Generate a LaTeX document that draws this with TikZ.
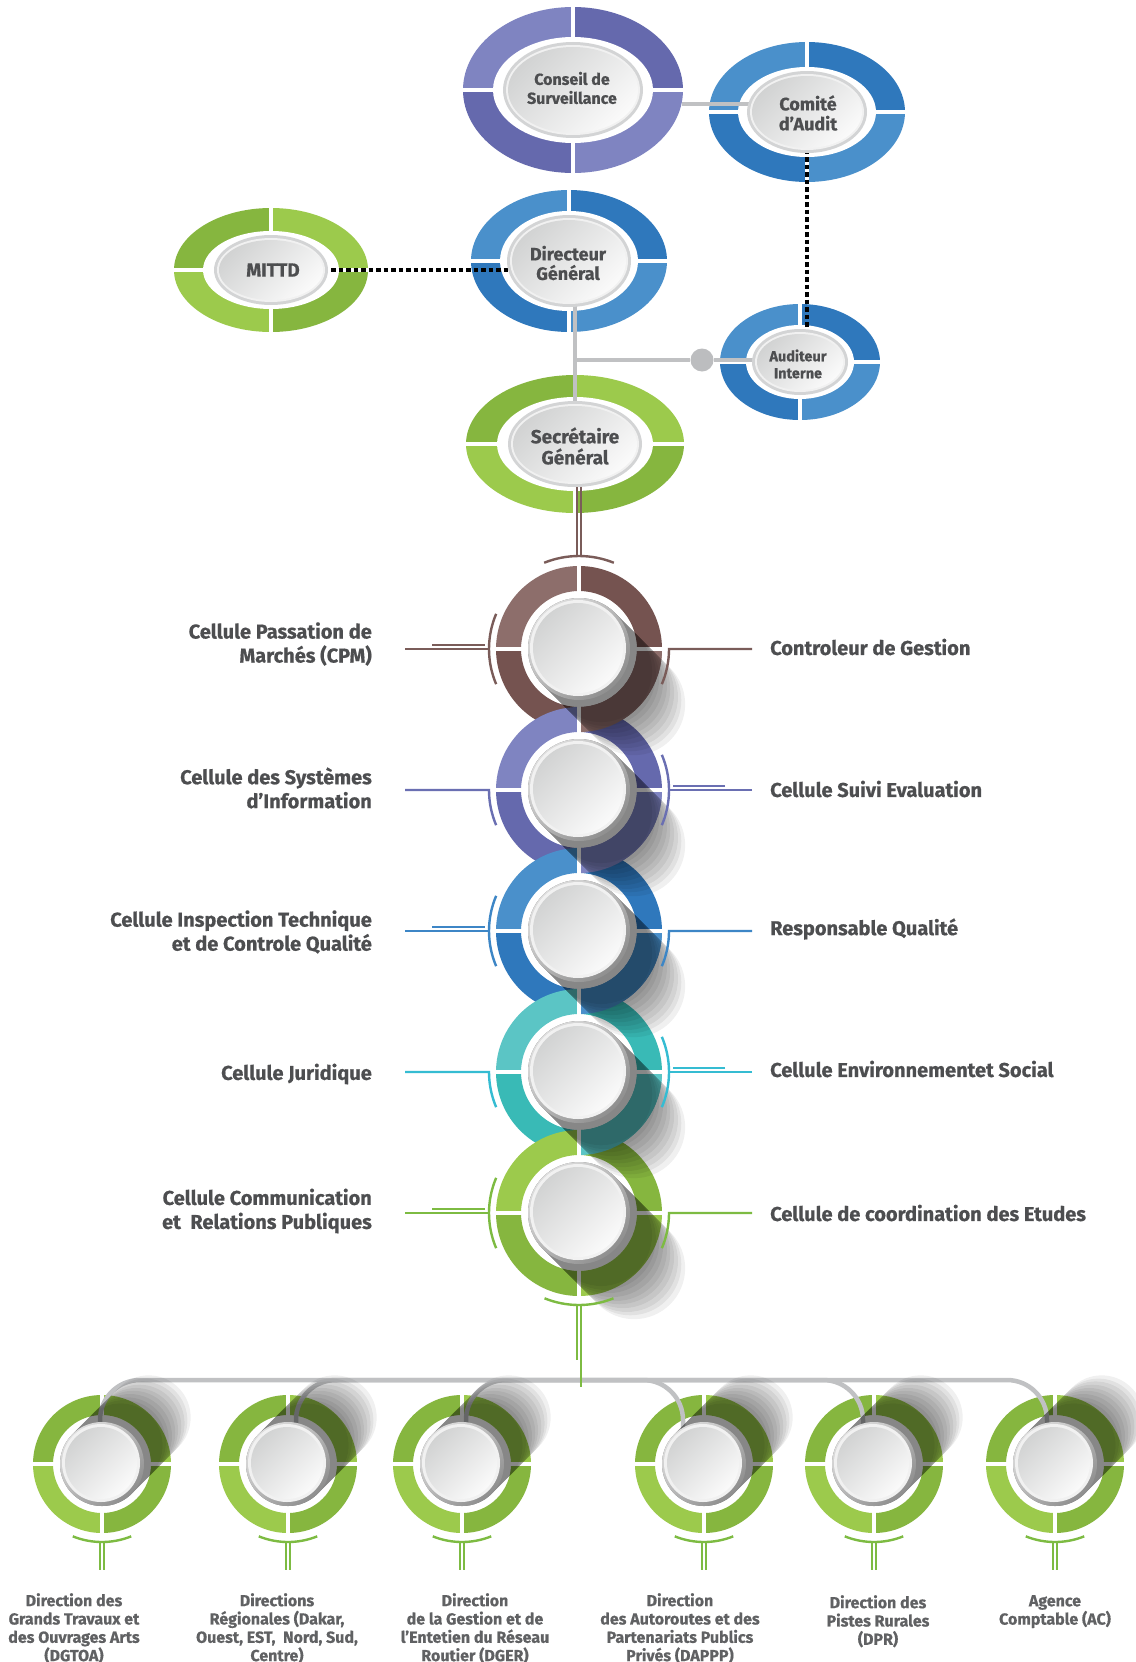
\documentclass[tikz,border=0pt]{standalone}
\usepackage{fontspec}
\setmainfont{Fira Sans}[BoldFeatures={FakeBold=0.6}]
\usetikzlibrary{positioning,calc}
% couleurs
\definecolor{TextGray}{HTML}{4D4E50}
\definecolor{LabelGray}{HTML}{606163}
\definecolor{LineGray}{HTML}{C0C1C3}
\definecolor{DotGray}{HTML}{BCBDBF}
\definecolor{BrownL}{HTML}{8D6E6B}
\definecolor{BrownD}{HTML}{755350}
\definecolor{BrownLine}{HTML}{7A5C59}
\definecolor{PurpleL}{HTML}{7F84C1}
\definecolor{PurpleD}{HTML}{6569AD}
\definecolor{PurpleLine}{HTML}{6A6FB2}
\definecolor{BlueL}{HTML}{4A90CB}
\definecolor{BlueD}{HTML}{2F78BC}
\definecolor{BlueLine}{HTML}{3D86C6}
\definecolor{TealL}{HTML}{5BC5C5}
\definecolor{TealD}{HTML}{39BAB6}
\definecolor{TealLine}{HTML}{35BCD2}
\definecolor{GreenL}{HTML}{9CCA4C}
\definecolor{GreenD}{HTML}{86B63F}
\definecolor{GreenLine}{HTML}{7DBB42}
\definecolor{RimGray}{HTML}{D3D4D5}
\definecolor{RimWhite}{HTML}{F1F1F1}
\definecolor{RimTop}{HTML}{DEDEDE}
\definecolor{RimBottom}{HTML}{8E8E8E}
\definecolor{BtnDark}{HTML}{D2D3D3}
\definecolor{BtnLight}{HTML}{FAFAFA}

% anneau ovale en quatre quarts : centre, rx, ry, trou rx, trou ry, couleur HG/BD, couleur HD/BG
\newcommand\ovalring[7]{%
  \fill[#6] (#1) -- ++(180:#2 and #3) arc[start angle=180,end angle=270,x radius=#2,y radius=#3] -- cycle;
  \fill[#7] (#1) -- ++(270:#2 and #3) arc[start angle=270,end angle=360,x radius=#2,y radius=#3] -- cycle;
  \fill[#6] (#1) -- ++(0:#2 and #3) arc[start angle=0,end angle=90,x radius=#2,y radius=#3] -- cycle;
  \fill[#7] (#1) -- ++(90:#2 and #3) arc[start angle=90,end angle=180,x radius=#2,y radius=#3] -- cycle;
  \fill[white] (#1) ellipse[x radius=#4,y radius=#5];
  \draw[divider] ($(#1)+(-#2-1,0)$) -- ($(#1)+(#2+1,0)$);
  \draw[divider] ($(#1)+(0,-#3-1)$) -- ($(#1)+(0,#3+1)$);}
% bouton ovale
\newcommand\ovalbtn[3]{%
  \fill[RimGray] (#1) ellipse[x radius=#2,y radius=#3];
  \fill[RimWhite] (#1) ellipse[x radius={#2-3},y radius={#3-3}];
  \shade[top color=BtnDark,bottom color=BtnLight,shading angle=45] (#1) ellipse[x radius={#2-5},y radius={#3-5}];}
% secteur d'anneau : centre, R, r, debut, fin, couleur
\newcommand\annsec[6]{%
  \fill[#6] ($(#1)+(#4:#2)$) arc[start angle=#4,end angle=#5,radius=#2] -- ($(#1)+(#5:#3)$) arc[start angle=#5,end angle=#4,radius=#3] -- cycle;}
\newcommand\chainring[5]{%
  \annsec{#1}{#4}{#5}{180}{270}{#2}\annsec{#1}{#4}{#5}{270}{360}{#3}%
  \annsec{#1}{#4}{#5}{0}{90}{#2}\annsec{#1}{#4}{#5}{90}{180}{#3}%
  \draw[divider] ($(#1)+(-#4-1,0)$) -- ($(#1)+(#4+1,0)$);
  \draw[divider] ($(#1)+(0,-#4-1)$) -- ($(#1)+(0,#4+1)$);}
% bouton rond
\newcommand\roundbtn[2]{%
  \shade[top color=RimTop,bottom color=RimBottom,shading angle=45] (#1) circle[radius=#2];
  \fill[RimWhite] ($(#1)+(-1,-1)$) circle[radius={#2-3}];
  \shade[top color=BtnDark,bottom color=BtnLight,shading angle=45] ($(#1)+(-1,-1)$) circle[radius={#2-6}];}
% ombre portee : centre, rayon, angle, longueur
\newcommand\longshadow[4]{%
  \foreach \f in {0.40,0.47,0.53,0.60,0.67,0.73,0.80,0.87,0.93,1.00}{%
    \fill[black,opacity=0.058] ($(#1)+(#3+90:#2)$) -- ++(#3:#4*\f) arc[start angle=#3+90,delta angle=-180,radius=#2] -- ++(#3+180:#4*\f) arc[start angle=#3-90,delta angle=-180,radius=#2] -- cycle;}}
% decors lateraux
\newcommand\leftfull[2]{%
  \draw[#2,orn] ($(#1)+(-174,0)$) -- ($(#1)+(-89,0)$);
  \draw[#2,orn] ($(#1)+(-147,-4)$) -- ($(#1)+(-94,-4)$);
  \draw[#2,orn] ($(#1)+(157:90)$) arc[start angle=157,end angle=203,radius=90];}
\newcommand\leftdown[2]{%
  \draw[#2,orn] ($(#1)+(-174,0)$) -- ($(#1)+(-90,0)$) arc[start angle=180,end angle=157,radius=90];}
\newcommand\rightfull[2]{%
  \draw[#2,orn] ($(#1)+(173,0)$) -- ($(#1)+(89,0)$);
  \draw[#2,orn] ($(#1)+(146,-4)$) -- ($(#1)+(94,-4)$);
  \draw[#2,orn] ($(#1)+(-23:90)$) arc[start angle=-23,end angle=23,radius=90];}
\newcommand\rightdown[2]{%
  \draw[#2,orn] ($(#1)+(173,0)$) -- ($(#1)+(90,0)$) arc[start angle=0,end angle=23,radius=90];}

\begin{document}
\begin{tikzpicture}[x=1pt,y=-1pt,
    divider/.style={white,line width=4pt},
    orn/.style={line width=2.4pt},
    gline/.style={LineGray,line width=4.5pt},
    dotline/.style={black,line width=3.5pt,dash pattern=on 4.5pt off 3pt},
    toptxt/.style={text=TextGray,font=\bfseries\fontsize{16}{19}\selectfont,align=center,inner sep=0pt},
    sidelbl/.style={text=TextGray,font=\bfseries\fontsize{20}{24}\selectfont,inner sep=0pt},
    dirlbl/.style={text=LabelGray,font=\bfseries\fontsize{16}{18.3}\selectfont,align=center,inner sep=0pt,anchor=north}]
  \useasboundingbox (0,0) rectangle (1135,1662);
  \fill[white] (0,0) rectangle (1135,1662);

  % centres du haut
  \coordinate (cs) at (573,90);
  \coordinate (ca) at (807,112);
  \coordinate (dg) at (569,261);
  \coordinate (mi) at (271,270);
  \coordinate (au) at (800,362);
  \coordinate (sg) at (575,444);

  % anneaux ovales
  \ovalring{cs}{110}{83}{80}{53}{PurpleL}{PurpleD}
  \ovalring{ca}{98}{70}{69}{45}{BlueL}{BlueD}
  \ovalring{dg}{98}{71}{69}{50}{BlueL}{BlueD}
  \ovalring{mi}{97}{62}{68}{39}{GreenD}{GreenL}
  \ovalring{au}{80}{58}{54}{37}{BlueL}{BlueD}
  \ovalring{sg}{109}{69}{78}{47}{GreenD}{GreenL}

  % liaisons du haut
  \coordinate (csE) at (682,104);
  \coordinate (jct) at (575,360);
  \draw[gline] (csE) -- (csE -| ca);
  \draw[gline] (dg -| sg) -- (sg);
  \node[circle,fill=DotGray,minimum size=23pt,inner sep=0pt] (dot) at (702,360) {};
  \draw[gline] (jct) -- (dot) -- (jct -| au);
  \draw[dotline] (mi) -- (mi -| dg);
  \draw[dotline] (ca) -- (ca |- au);

  % boutons et textes du haut
  \ovalbtn{cs}{70}{48}
  \ovalbtn{ca}{60}{41}
  \ovalbtn{dg}{62}{46}
  \ovalbtn{mi}{57}{35}
  \ovalbtn{au}{48}{33}
  \ovalbtn{sg}{67}{43}
  \node[toptxt] (csLbl) at (572,88) {Conseil de\\Surveillance};
  \node[toptxt,font=\bfseries\fontsize{18}{20}\selectfont] (caLbl) at (808,113) {Comité\\d’Audit};
  \node[toptxt,font=\bfseries\fontsize{18}{19.5}\selectfont] (dgLbl) at (568,263) {Directeur\\Général};
  \node[toptxt,font=\bfseries\fontsize{19}{20}\selectfont] (miLbl) at (273,270) {MITTD};
  \node[toptxt,font=\bfseries\fontsize{14.5}{17}\selectfont] (auLbl) at (798,364) {Auditeur\\Interne};
  \node[toptxt,font=\bfseries\fontsize{19}{21}\selectfont] (sgLbl) at (575,446) {Secrétaire\\Général};

  % chaine des cellules
  \foreach \n/\cy in {cpm/649,csi/790,cit/931,cj/1072,ccr/1213}{\coordinate (\n) at (579,\cy);}
  \draw[BrownLine,line width=2pt] ($(cpm)+(-2,-93)$) -- ($(cpm)+(-2,-162)$);
  \draw[BrownLine,line width=2pt] ($(cpm)+(2,-93)$) -- ($(cpm)+(2,-162)$);
  \chainring{cpm}{BrownL}{BrownD}{83}{58}
  \chainring{csi}{PurpleL}{PurpleD}{83}{58}
  \chainring{cit}{BlueL}{BlueD}{83}{58}
  \chainring{cj}{TealL}{TealD}{83}{58}
  \chainring{ccr}{GreenL}{GreenD}{83}{58}
  % quarts bas-droite repris par-dessus
  \foreach \n/\lc in {cpm/BrownL,csi/PurpleL,cit/BlueL,cj/TealL}{%
    \annsec{\n}{83}{58}{0}{90}{\lc}
    \draw[divider] ($(\n)+(50,0)$) -- ($(\n)+(84,0)$);
    \draw[divider] ($(\n)+(0,50)$) -- ($(\n)+(0,84)$);
  }
  \foreach \n in {cpm,csi,cit,cj,ccr}{\longshadow{\n}{51}{45}{78}}
  \foreach \n in {cpm,csi,cit,cj,ccr}{\roundbtn{\n}{51}}
  \draw[BrownLine,orn] ($(cpm)+(-112:93)$) arc[start angle=-112,end angle=-68,radius=93];
  \leftfull{cpm}{BrownLine}\rightdown{cpm}{BrownLine}
  \leftdown{csi}{PurpleLine}\rightfull{csi}{PurpleLine}
  \leftfull{cit}{BlueLine}\rightdown{cit}{BlueLine}
  \leftdown{cj}{TealLine}\rightfull{cj}{TealLine}
  \leftfull{ccr}{GreenLine}\rightdown{ccr}{GreenLine}

  % libelles des cellules
  \node[sidelbl,anchor=east,align=right] (cpmL) at (372,644) {Cellule Passation de\\Marchés (CPM)};
  \node[sidelbl,anchor=east,align=right] (csiL) at (372,788) {Cellule des Systèmes\\d’Information};
  \node[sidelbl,anchor=east,align=right] (citL) at (372,932) {Cellule Inspection Technique\\et de Controle Qualité};
  \node[sidelbl,anchor=east,align=right] (cjL) at (372,1074) {Cellule Juridique};
  \node[sidelbl,anchor=east,align=right] (ccrL) at (372,1211) {Cellule Communication\\et~ Relations Publiques};
  \node[sidelbl,anchor=west] (cpmR) at (770,647) {Controleur de Gestion};
  \node[sidelbl,anchor=west] (csiR) at (770,789) {Cellule Suivi Evaluation};
  \node[sidelbl,anchor=west] (citR) at (770,929) {Responsable Qualité};
  \node[sidelbl,anchor=west] (cjR) at (770,1069) {Cellule Environnementet Social};
  \node[sidelbl,anchor=west] (ccrR) at (770,1213) {Cellule de coordination des Etudes};

  % directions
  \foreach \n/\cx in {dgtoa/102,dr/288,dger/462,dappp/704,dpr/874,ac/1055}{\coordinate (\n) at (\cx,1464);}
  \foreach \n in {dgtoa,dr,dger,dappp,dpr,ac}{\chainring{\n}{GreenD}{GreenL}{69}{49}}
  \coordinate (bus) at (579,1380);
  \foreach \kx in {100,296,466,683,863,1047}{%
    \draw[gline,rounded corners=40pt] (bus) -- (\kx,1380) -- (\kx,1432);}
  \foreach \n in {dgtoa,dr,dger,dappp,dpr,ac}{\longshadow{\n}{42}{-45}{66}}
  \foreach \n in {dgtoa,dr,dger,dappp,dpr,ac}{\roundbtn{\n}{42}}
  \draw[GreenLine,line width=2pt] ($(ccr)+(-2,92)$) -- ($(ccr)+(-2,147)$);
  \draw[GreenLine,line width=2pt] ($(ccr)+(2,92)$) -- ($(ccr)+(2,174)$);
  \draw[GreenLine,orn] ($(ccr)+(68:92)$) arc[start angle=68,end angle=112,radius=92];
  \foreach \n in {dgtoa,dr,dger,dappp,dpr,ac}{%
    \draw[GreenLine,orn] ($(\n)+(68:78)$) arc[start angle=68,end angle=112,radius=78];
    \draw[GreenLine,line width=2pt] ($(\n)+(-2,78)$) -- ($(\n)+(-2,106)$);
    \draw[GreenLine,line width=2pt] ($(\n)+(2,78)$) -- ($(\n)+(2,106)$);
  }
  \node[dirlbl] (dgtoaL) at (74,1593) {Direction des\\Grands Travaux et\\des Ouvrages Arts\\(DGTOA)};
  \node[dirlbl] (drL) at (277,1593) {Directions\\Régionales (Dakar,\\Ouest, EST,~ Nord, Sud,\\Centre)};
  \node[dirlbl] (dgerL) at (475,1593) {Direction\\de la Gestion et de\\l’Entetien du Réseau\\Routier (DGER)};
  \node[dirlbl] (dapppL) at (680,1593) {Direction\\des Autoroutes et des\\Partenariats Publics\\Privés (DAPPP)};
  \node[dirlbl] (dprL) at (878,1595) {Direction des\\Pistes Rurales\\(DPR)};
  \node[dirlbl] (acL) at (1055,1595) {Agence\\Comptable (AC)};
\end{tikzpicture}
\end{document}
